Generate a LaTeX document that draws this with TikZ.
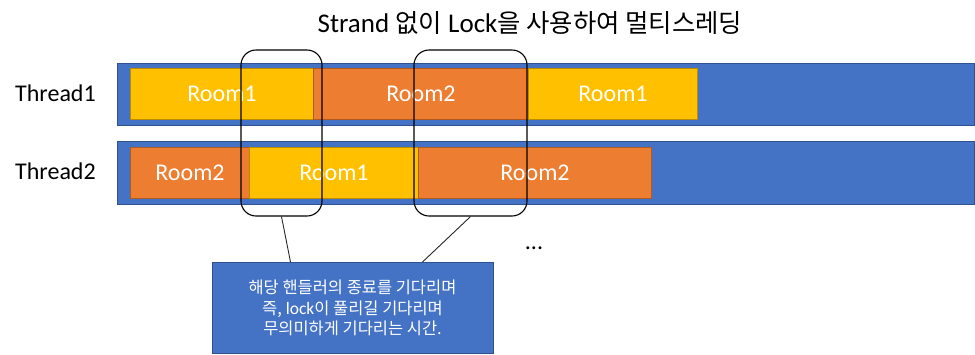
\documentclass[tikz,border=0pt]{standalone}
\usepackage{fontspec}
\setmainfont{Carlito}
\newfontfamily\kr[Scale=0.94]{Noto Sans CJK KR}
\usetikzlibrary{positioning,calc}

\definecolor{barblue}{HTML}{4472C4}
\definecolor{barline}{HTML}{2F528F}
\definecolor{roomyellow}{HTML}{FFC000}
\definecolor{yellowline}{HTML}{BC8C00}
\definecolor{roomorange}{HTML}{ED7D31}
\definecolor{orangeline}{HTML}{AE5A21}

\begin{document}
\begin{tikzpicture}[x=1pt, y=-1pt,
    threadbar/.style={draw=barline, fill=barblue, line width=1pt, minimum width=857pt, minimum height=62pt, inner sep=0pt},
    roombox/.style={line width=1pt, minimum height=51pt, inner sep=0pt, anchor=west, text=white, font=\fontsize{24}{28}\selectfont},
    roomone/.style={roombox, fill=roomyellow, draw=yellowline},
    roomtwo/.style={roombox, fill=roomorange, draw=orangeline},
    lockbox/.style={draw=black, line width=1.1pt, rounded corners=15pt, minimum height=166pt, inner sep=0pt},
    label/.style={anchor=base west, inner sep=0pt, font=\fontsize{24}{28}\selectfont}]

        \useasboundingbox (0,0) rectangle (975,354);

        % Titulo
        \node[anchor=base, inner sep=0pt, font=\fontsize{27}{32}\selectfont] (title) at (530,32) {Strand {\kr 없이} Lock{\kr 을 사용하여 멀티스레딩}};

        % Hilos
        \node[label] (t1) at (15,101) {Thread1};
        \node[label] (t2) at (15,179) {Thread2};
        \node[threadbar] (bar1) at (545.5,94) {};
        \node[threadbar, minimum height=63pt] (bar2) at (545.5,172.5) {};

        % Thread1
        \node[roomone, minimum width=183pt] (a1) at (130,93.5) {Room1};
        \node[roomtwo, minimum width=215pt] (a2) at (313,93.5) {Room2};
        \node[roomone, minimum width=169pt] (a3) at (528,93.5) {Room1};

        % Thread2
        \node[roomtwo, minimum width=119pt] (b1) at (130,172.5) {Room2};
        \node[roomone, minimum width=169pt] (b2) at (249,172.5) {Room1};
        \node[roomtwo, minimum width=233pt] (b3) at (418,172.5) {Room2};

        % Esperas
        \node[lockbox, minimum width=81pt] (w1) at (281.5,133) {};
        \node[lockbox, minimum width=113pt] (w2) at (470.5,133) {};

        \node[anchor=base, inner sep=0pt, font=\fontsize{24}{28}\selectfont] (more) at (534,249) {...};

        % Nota
        \node[draw=barline, fill=barblue, line width=1pt, minimum width=281pt, minimum height=91pt,
              text=white, align=center, font=\fontsize{17.5}{20.5}\selectfont] (note) at (352.5,308)
              {{\kr 해당 핸들러의 종료를 기다리며}\\{\kr 즉,} lock{\kr 이 풀리길 기다리며}\\{\kr 무의미하게 기다리는 시간.}};

        % Conexiones
        \draw[line width=0.9pt, black!85] (w1.south) -- ([xshift=79pt]note.north west);
        \draw[line width=0.9pt, black!85] (w2.south) -- ([xshift=211pt]note.north west);

    \end{tikzpicture}
\end{document}
